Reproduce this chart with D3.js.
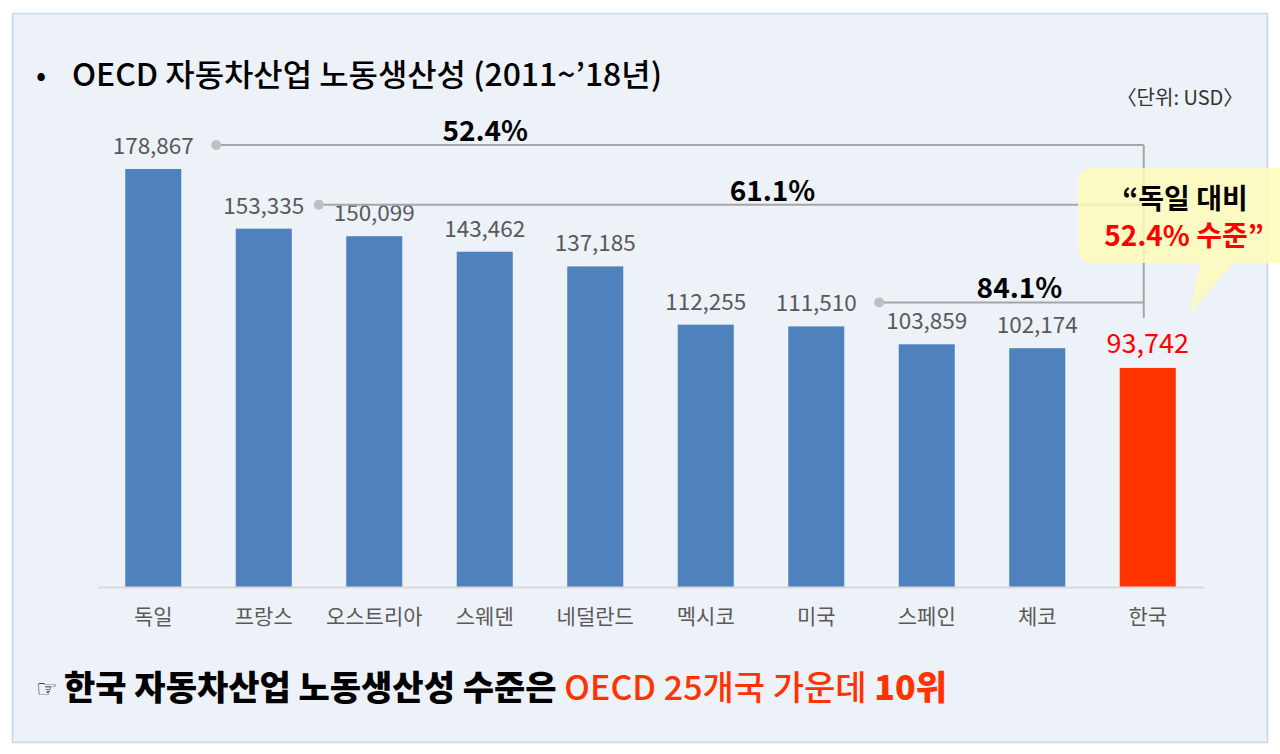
<!DOCTYPE html>
<html>
<head>
<meta charset="utf-8">
<script src="https://cdn.jsdelivr.net/npm/d3@7"></script>
<style>
  body { margin: 0; background: #ffffff; }
  svg { display: block; }
</style>
</head>
<body>
<div id="container"></div>
<script>
const w = 1280,
    h = 754;

// data
const countries = ['독일', '프랑스', '오스트리아', '스웨덴', '네덜란드', '멕시코', '미국', '스페인', '체코', '한국'];
const productivity = [178867, 153335, 150099, 143462, 137185, 112255, 111510, 103859, 102174, 93742];
const highlight = '한국';
// comparison brackets: from country -> Korea, with ratio text
const bracketFrom = ['독일', '프랑스', '미국'];
const bracketRatio = ['52.4%', '61.1%', '84.1%'];

const font = '"Noto Sans CJK KR", "Noto Sans", sans-serif';

var svg = d3.select("div#container")
    .append("svg")
    .attr("width", w)
    .attr("height", h)
    .style("font-family", font);

// panel
svg.append("rect")
    .attr("x", 12.5)
    .attr("y", 13.5)
    .attr("width", 1255)
    .attr("height", 729)
    .style("fill", "#edf1f8")
    .style("stroke", "#c9d7ea")
    .style("stroke-width", 1.5);

// title
svg.append("text")
    .attr("x", 36)
    .attr("y", 86)
    .style("font-size", "30px")
    .style("fill", "#000")
    .text("•");
svg.append("text")
    .attr("x", 72)
    .attr("y", 86)
    .attr("textLength", 590)
    .attr("lengthAdjust", "spacingAndGlyphs")
    .style("font-size", "31px")
    .style("font-weight", "500")
    .style("fill", "#000")
    .text("OECD 자동차산업 노동생산성 (2011~’18년)");

svg.append("text")
    .attr("x", 1180)
    .attr("y", 105)
    .attr("text-anchor", "middle")
    .style("font-size", "20px")
    .style("fill", "#333")
    .text("〈단위: USD〉");

// scales
var x = d3.scaleBand()
    .domain(countries)
    .range([98, 1203])
    .paddingInner(0.493)
    .paddingOuter(0.2465);

var y = d3.scaleLinear()
    .domain([0, 200000])
    .range([587, 119.6]);

var values = new Map(countries.map((c, i) => [c, productivity[i]]));

// bars
svg.selectAll("rect.bar")
    .data(countries)
    .enter().append("rect")
    .attr("class", "bar")
    .attr("x", d => x(d))
    .attr("y", d => y(values.get(d)))
    .attr("width", x.bandwidth())
    .attr("height", d => y(0) - y(values.get(d)))
    .style("fill", d => d === highlight ? "#ff3300" : "#4f81bd");

// x axis
var xAxis = svg.append("g")
    .attr("transform", "translate(0," + y(0) + ")")
    .call(d3.axisBottom(x).tickSize(0).tickPadding(22));
xAxis.select(".domain")
    .attr("stroke", "#d9d9d9")
    .attr("stroke-width", 2);
xAxis.selectAll("text")
    .style("font-family", font)
    .style("font-size", "21px")
    .style("fill", "#595959");

// value labels
svg.selectAll("text.value")
    .data(countries)
    .enter().append("text")
    .attr("class", "value")
    .attr("x", d => x(d) + x.bandwidth() / 2)
    .attr("y", d => y(values.get(d)) - 15)
    .attr("text-anchor", "middle")
    .style("font-size", d => d === highlight ? "27px" : "22.5px")
    .style("fill", d => d === highlight ? "#ff0000" : "#595959")
    .text(d => d3.format(",")(values.get(d)));

// brackets
var kx = x(highlight) + x.bandwidth() / 2 - 4;
var bracketY = bracketFrom.map(c => y(values.get(c)) - 24);
var labelPos = [0.29, 0.55, 0.53];

svg.append("line")
    .attr("x1", kx).attr("x2", kx)
    .attr("y1", d3.min(bracketY))
    .attr("y2", y(values.get(highlight)) - 50)
    .style("stroke", "#a6a6a6")
    .style("stroke-width", 2);

var br = svg.selectAll("g.bracket")
    .data(bracketFrom)
    .enter().append("g")
    .attr("class", "bracket");

var dotX = d => x(d) + x.bandwidth() / 2 + (d === '프랑스' ? 55 : 63);

br.append("line")
    .attr("x1", dotX)
    .attr("x2", kx)
    .attr("y1", (d, i) => bracketY[i])
    .attr("y2", (d, i) => bracketY[i])
    .style("stroke", "#a6a6a6")
    .style("stroke-width", 2);

br.append("circle")
    .attr("cx", dotX)
    .attr("cy", (d, i) => bracketY[i])
    .attr("r", 5)
    .style("fill", "#bfbfbf");

br.append("text")
    .attr("x", (d, i) => {
        var x0 = dotX(d);
        return x0 + (kx - x0) * labelPos[i];
    })
    .attr("y", (d, i) => bracketY[i] - 4)
    .attr("text-anchor", "middle")
    .style("font-size", "28px")
    .style("font-weight", "bold")
    .style("fill", "#000")
    .text((d, i) => bracketRatio[i]);

// callout
var callout = svg.append("g");
callout.append("path")
    .attr("d", "M1093,168 H1290 V263 H1233 L1190,313 L1200,263 H1093 Q1078,263 1078,248 V183 Q1078,168 1093,168 Z")
    .style("fill", "#fdfcb8")
    .style("opacity", 0.85);
callout.append("text")
    .attr("x", 1185)
    .attr("y", 209)
    .attr("text-anchor", "middle")
    .style("font-size", "28px")
    .style("font-weight", "bold")
    .style("fill", "#000")
    .text("“독일 대비");
callout.append("text")
    .attr("x", 1184)
    .attr("y", 246)
    .attr("text-anchor", "middle")
    .style("font-size", "28px")
    .style("font-weight", "bold")
    .style("fill", "#ff0000")
    .text("52.4% 수준”");

// bottom note
svg.append("text")
    .attr("x", 36)
    .attr("y", 697)
    .style("font-family", "DejaVu Sans")
    .style("font-size", "24px")
    .style("fill", "#000")
    .text("☞");
var note = svg.append("text")
    .attr("x", 64)
    .attr("y", 700)
    .style("font-size", "34px")
    .style("font-weight", "900");
note.append("tspan")
    .style("fill", "#000")
    .text("한국 자동차산업 노동생산성 수준은 ");
note.append("tspan")
    .style("fill", "#ff3300")
    .style("font-weight", "500")
    .text("OECD 25개국 가운데 ");
note.append("tspan")
    .style("fill", "#ff3300")
    .style("font-weight", "900")
    .text("10위");
</script>
</body>
</html>
